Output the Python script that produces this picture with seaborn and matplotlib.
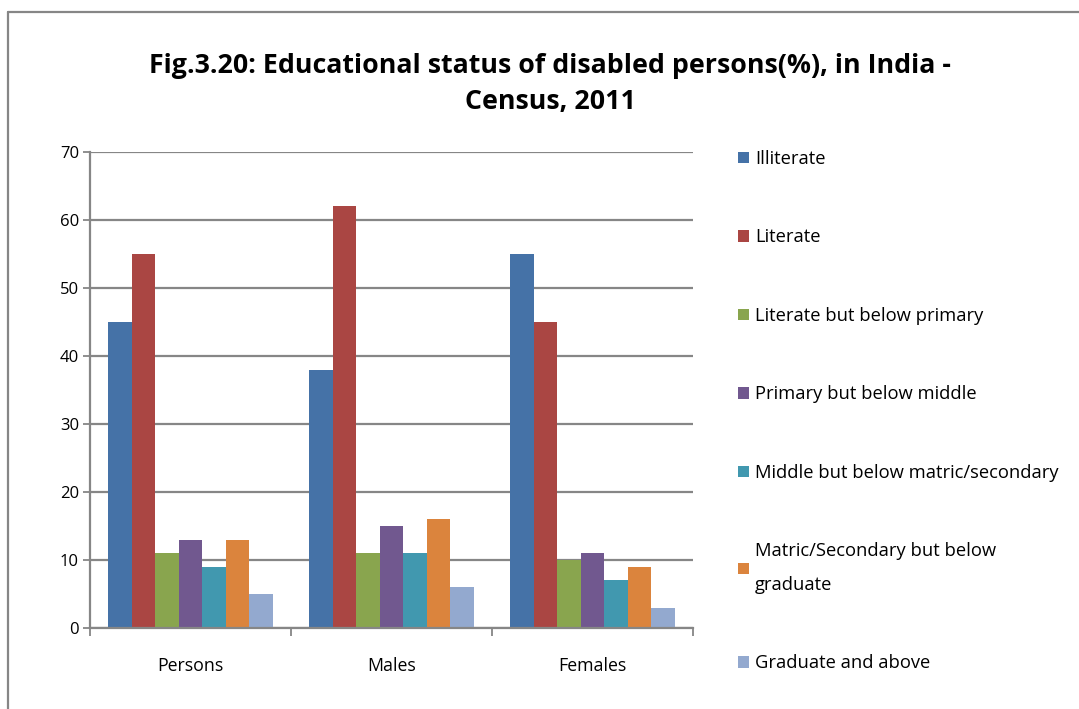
import pandas as pd
import matplotlib
matplotlib.use("Agg")
import matplotlib.pyplot as plt
import seaborn as sns
from matplotlib.lines import Line2D

# data
groups = ["Persons", "Males", "Females"]
levels = [
    "Illiterate",
    "Literate",
    "Literate but below primary",
    "Primary but below middle",
    "Middle but below matric/secondary",
    "Matric/Secondary but below graduate",
    "Graduate and above",
]
persons = [45, 55, 11, 13, 9, 13, 5]
males = [38, 62, 11, 15, 11, 16, 6]
females = [55, 45, 10, 11, 7, 9, 3]
y_ticks = [0, 10, 20, 30, 40, 50, 60, 70]

colors = ["#4572A7", "#AA4643", "#89A54E", "#71588F", "#4198AF", "#DB843D", "#93A9CF"]
grid_col = "#868686"

rows = []
for g, vals in zip(groups, [persons, males, females]):
    for lev, v in zip(levels, vals):
        rows.append({"group": g, "level": lev, "value": v})
df = pd.DataFrame(rows)

sns.set_style("white")
plt.rcParams["font.family"] = ["Open Sans", "DejaVu Sans"]
plt.rcParams["text.color"] = "black"
plt.rcParams["xtick.labelcolor"] = "black"
plt.rcParams["ytick.labelcolor"] = "black"

fig = plt.figure(figsize=(10.79, 7.09), dpi=100)
ax = fig.add_axes([0.0834, 0.1142, 0.5589, 0.6714])

sns.barplot(data=df, x="group", y="value", hue="level", order=groups,
            hue_order=levels, palette=colors, width=0.82, gap=0,
            saturation=1, linewidth=0, errorbar=None, ax=ax)

ax.set_ylim(0, 70)
ax.set_xlim(-0.5, 2.5)
ax.set_yticks(y_ticks)
ax.yaxis.grid(True, color=grid_col, linewidth=1.6)
ax.set_axisbelow(True)
ax.set_xlabel("")
ax.set_ylabel("")

for s in ["top", "right"]:
    ax.spines[s].set_visible(False)
for s in ["left", "bottom"]:
    ax.spines[s].set_color(grid_col)
    ax.spines[s].set_linewidth(1.6)

ax.tick_params(axis="y", which="major", left=True, length=5, width=1.3,
               color=grid_col, labelsize=12, pad=3)
ax.tick_params(axis="x", which="major", bottom=False, length=0,
               labelsize=12.8, pad=21)
ax.set_xticks([-0.5, 0.5, 1.5, 2.5], minor=True)
ax.tick_params(axis="x", which="minor", bottom=True, length=6, width=1.3,
               color=grid_col)

# legend on the right, wide spacing like the original
handles, labels = ax.get_legend_handles_labels()
labels = [l.replace("Secondary but below graduate", "Secondary but below\ngraduate") for l in labels]
leg = ax.legend(handles, labels, loc="upper left", bbox_to_anchor=(1.063, 1.02),
                frameon=False, fontsize=13.2, labelspacing=3.3,
                handlelength=0.6, handleheight=0.6, handletextpad=0.3,
                borderaxespad=0)
for t in leg.get_texts():
    t.set_linespacing(2.1)

fig.text(0.51, 0.881, "Fig.3.20: Educational status of disabled persons(%), in India -\nCensus, 2011",
         ha="center", va="center", fontsize=19.3, fontweight="bold",
         linespacing=1.5, multialignment="center", color="black")

# outer frame (left and top edges visible)
fig.add_artist(Line2D([8 / 1079, 8 / 1079], [0, 1 - 12 / 709],
                      transform=fig.transFigure, color=grid_col, linewidth=1.6))
fig.add_artist(Line2D([8 / 1079, 1], [1 - 12 / 709, 1 - 12 / 709],
                      transform=fig.transFigure, color=grid_col, linewidth=1.6))

fig.savefig("out.png", dpi=100)
